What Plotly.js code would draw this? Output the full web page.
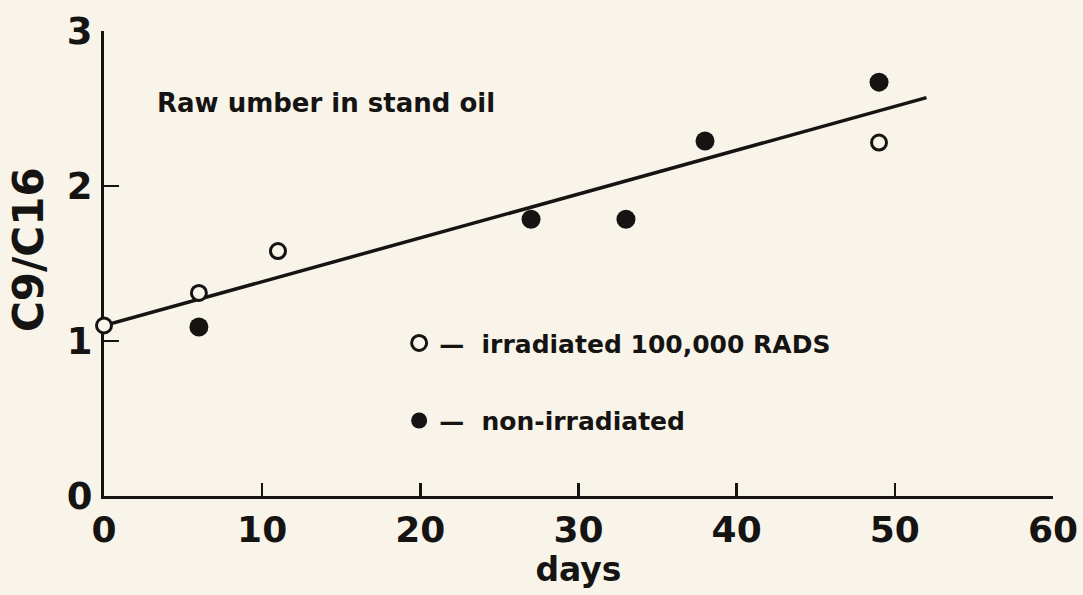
<!DOCTYPE html>
<html>
<head>
<meta charset="utf-8">
<script src="https://cdn.plot.ly/plotly-3.0.1.min.js"></script>
<style>html,body{margin:0;padding:0;background:#f8f4ea;}#chart{width:1083px;height:595px;}</style>
</head>
<body>
<div id="chart"></div>
<script>
// Data
const irradiatedDays = [0, 6, 11, 49];
const irradiatedRatio = [1.1, 1.31, 1.58, 2.28];
const nonIrradiatedDays = [6, 27, 33, 38, 49];
const nonIrradiatedRatio = [1.09, 1.785, 1.785, 2.29, 2.67];
const fitDays = [0, 52];
const fitRatio = [1.1, 2.57];
const xTicks = [0, 10, 20, 30, 40, 50, 60];
const yTicks = [0, 1, 2, 3];

const BG = '#f8f4ea';
const INK = '#161412';
const FONT = 'DejaVu Sans';

const traces = [
  {x: fitDays, y: fitRatio, mode: 'lines', line: {color: INK, width: 3.5},
   showlegend: false, hoverinfo: 'skip', cliponaxis: false},
  {x: irradiatedDays, y: irradiatedRatio, mode: 'markers', name: '—\u00a0\u00a0irradiated 100,000 RADS',
   legendgroup: 'a',
   marker: {symbol: 'circle', size: 15, color: BG, line: {color: INK, width: 3}}, cliponaxis: false},
  {x: nonIrradiatedDays, y: nonIrradiatedRatio, mode: 'markers', name: '—\u00a0\u00a0non-irradiated',
   legendgroup: 'b',
   marker: {symbol: 'circle', size: 19, color: INK, line: {width: 0}}, cliponaxis: false}
];

const layout = {
  width: 1083, height: 595,
  paper_bgcolor: BG, plot_bgcolor: BG,
  margin: {l: 104, r: 30, t: 31, b: 99},
  font: {family: FONT, color: INK, weight: 'bold'},
  showlegend: true,
  legend: {x: 0.311, y: 0.378, xanchor: 'left', yanchor: 'top', bgcolor: 'rgba(0,0,0,0)',
    font: {family: FONT, size: 25, color: INK, weight: 'bold'},
    traceorder: 'grouped', tracegroupgap: 42, itemsizing: 'trace'},
  xaxis: {
    range: [0, 60], tickvals: xTicks, ticktext: xTicks.map(String),
    showline: true, linecolor: INK, linewidth: 3, zeroline: false, showgrid: false,
    ticks: 'inside', ticklen: 13, tickwidth: 2.5, tickcolor: INK,
    tickfont: {family: FONT, size: 36, color: INK, weight: 'bold'},
    ticklabelstandoff: 0,
    layer: 'below traces',
    title: {text: 'days', font: {family: FONT, size: 33, color: INK, weight: 'bold'}, standoff: 9}
  },
  yaxis: {
    range: [0, 3], tickvals: yTicks, ticktext: yTicks.map(String),
    showline: true, linecolor: INK, linewidth: 3, zeroline: false, showgrid: false,
    ticks: 'inside', ticklen: 15, tickwidth: 2.5, tickcolor: INK,
    tickfont: {family: FONT, size: 37, color: INK, weight: 'bold'},
    ticklabelstandoff: 1,
    layer: 'below traces'
  },
  annotations: [
    {text: 'C9/C16', xref: 'paper', yref: 'paper', x: 0, y: 0.529, xshift: -76,
     textangle: -90, showarrow: false, xanchor: 'center', yanchor: 'middle',
     font: {family: FONT, size: 42, color: INK, weight: 'bold'}},
    {text: 'Raw umber in stand oil', xref: 'paper', yref: 'paper', x: (155 - 104) / 949, y: (496 - 103) / 465,
     showarrow: false, xanchor: 'left', yanchor: 'middle',
     font: {family: FONT, size: 26, color: INK, weight: 'bold'}}
  ]
};

Plotly.newPlot('chart', traces, layout, {displayModeBar: false, staticPlot: true});
</script>
</body>
</html>
